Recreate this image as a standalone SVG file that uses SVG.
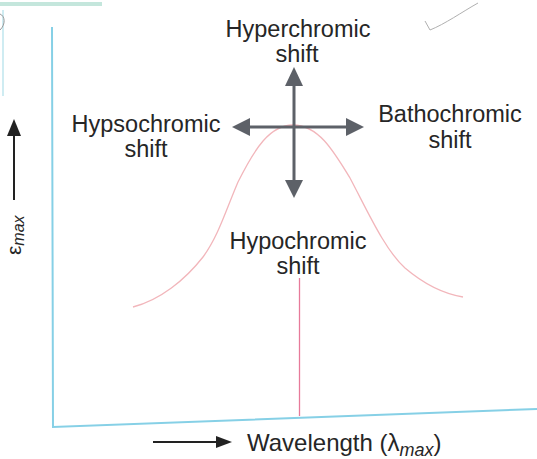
<svg xmlns="http://www.w3.org/2000/svg" width="537" height="459" viewBox="0 0 537 459">
  <style>
    .lbl { font-family: "Liberation Sans", Arial, sans-serif; font-size: 23.5px; fill: #262626; text-anchor: middle; }
    .ax { stroke: #86d0e6; stroke-width: 2; fill: none; }
    .shift { stroke: #5d6168; stroke-width: 3; fill: none; }
    .head { fill: #5d6168; }
    .dark { stroke: #222; stroke-width: 2; fill: none; }
  </style>
  <rect width="537" height="459" fill="#ffffff"/>
  <!-- scan artifacts -->
  <g id="artifacts">
    <line x1="0" y1="4" x2="102" y2="4" stroke="#c4e6dc" stroke-width="4"/>
    <line x1="3" y1="10" x2="3" y2="96" stroke="#bfe6ee" stroke-width="1.5"/>
    <path d="M0,14 C5,16 6,24 0,30" stroke="#9a9a9a" stroke-width="1" fill="none"/>
    <path d="M425,21 L430,30 C445,24 462,12 478,3" stroke="#b0b0b0" stroke-width="1" fill="none"/>
  </g>
  <g id="axes">
    <polyline class="ax" points="52,27 53,427 537,409"/>
  </g>
  <g id="curve">
    <path d="M133,307 C160,300 185,280 203,257 C218,237 226,210 238,182 C255,148 270,125 293,125 C318,125 333,150 350,178 C368,212 385,250 405,268 C425,285 445,294 463,297" stroke="#f2b6bb" stroke-width="1.3" fill="none"/>
    <line x1="299.5" y1="278" x2="299.5" y2="416" stroke="#e77a9a" stroke-width="1.3"/>
  </g>
  <g id="connectors">
    <line class="shift" x1="294" y1="84" x2="294" y2="182"/>
    <polygon class="head" points="294,67 285,86 303,86"/>
    <polygon class="head" points="294,198 285,180 303,180"/>
    <line class="shift" x1="247" y1="127" x2="348" y2="127"/>
    <polygon class="head" points="232,127 250,118 250,136"/>
    <polygon class="head" points="364,127 346,118 346,136"/>
    <line class="dark" x1="14" y1="200" x2="14" y2="134"/>
    <polygon points="14,119 7,136 21,136" fill="#222"/>
    <line class="dark" x1="153" y1="442" x2="219" y2="442"/>
    <polygon points="232,442 216,436 216,448" fill="#222"/>
  </g>
  <g id="hyperchromic">
    <text class="lbl" x="298" y="37">Hyperchromic</text>
    <text class="lbl" x="297" y="62">shift</text>
  </g>
  <g id="hypsochromic">
    <text class="lbl" x="146" y="132">Hypsochromic</text>
    <text class="lbl" x="146" y="157">shift</text>
  </g>
  <g id="bathochromic">
    <text class="lbl" x="450" y="122">Bathochromic</text>
    <text class="lbl" x="450" y="148">shift</text>
  </g>
  <g id="hypochromic">
    <text class="lbl" x="298" y="249">Hypochromic</text>
    <text class="lbl" x="298" y="274">shift</text>
  </g>
  <g id="y-label">
    <text x="0" y="0" transform="translate(21,255) rotate(-90)" style="font-family: 'Liberation Sans', Arial, sans-serif; font-size: 21px; fill: #262626;">ε<tspan dy="3" style="font-size: 16px; font-style: italic;">max</tspan></text>
  </g>
  <g id="x-label">
    <text x="247" y="451" style="font-family: 'Liberation Sans', Arial, sans-serif; font-size: 24px; fill: #262626;">Wavelength (λ<tspan dy="5" style="font-size: 18px; font-style: italic;">max</tspan><tspan dy="-5">)</tspan></text>
  </g>
</svg>
